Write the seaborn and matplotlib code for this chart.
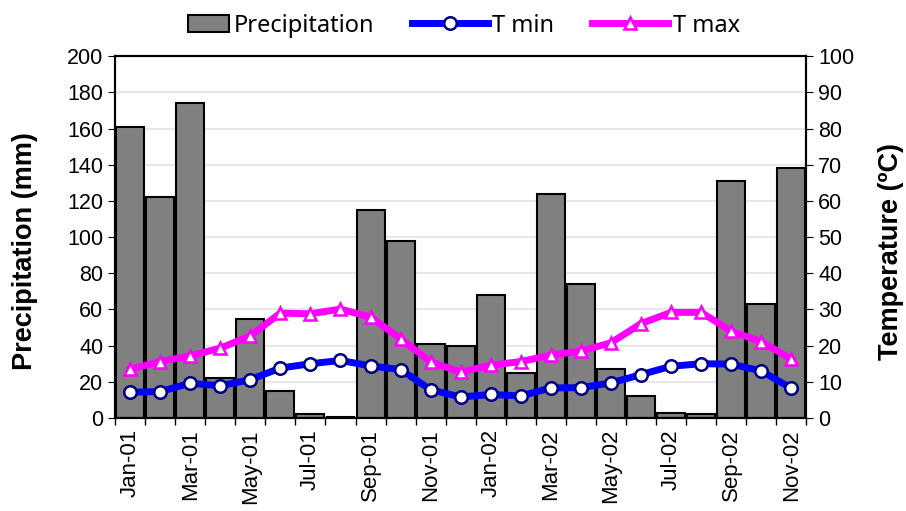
import matplotlib
matplotlib.use("Agg")
import matplotlib.pyplot as plt
from matplotlib.patches import Patch, Rectangle
from matplotlib.legend_handler import HandlerPatch
import seaborn as sns
import numpy as np
import pandas as pd

# Datos (ene-2001 a nov-2002)
months = ['Jan-01', 'Feb-01', 'Mar-01', 'Apr-01', 'May-01', 'Jun-01', 'Jul-01', 'Aug-01',
          'Sep-01', 'Oct-01', 'Nov-01', 'Dec-01', 'Jan-02', 'Feb-02', 'Mar-02', 'Apr-02',
          'May-02', 'Jun-02', 'Jul-02', 'Aug-02', 'Sep-02', 'Oct-02', 'Nov-02']
precip = [161, 122, 174, 22, 55, 15, 2, 0.5, 115, 98, 41, 40,
          68, 25, 124, 74, 27, 12, 3, 2, 131, 63, 138]
tmin = [7.1, 7.3, 9.6, 8.9, 10.6, 13.8, 15.0, 15.9, 14.4, 13.4, 7.8, 5.8,
        6.5, 6.1, 8.3, 8.4, 9.7, 12.0, 14.3, 15.0, 14.9, 13.0, 8.2]
tmax = [13.5, 15.6, 17.2, 19.3, 22.7, 29.0, 28.8, 30.1, 27.9, 21.9, 15.5, 12.7,
        14.6, 15.6, 17.4, 18.5, 20.8, 26.1, 29.2, 29.2, 24.0, 21.1, 16.3]

df = pd.DataFrame({'Month': months, 'Precipitation': precip, 'Tmin': tmin, 'Tmax': tmax})
df['pos'] = np.arange(len(df))

plt.rcParams['font.family'] = ['Liberation Sans', 'DejaVu Sans']

fig = plt.figure(figsize=(9.06, 5.11), dpi=100)
ax = fig.add_axes([0.127, 0.182, 0.763, 0.708])

sns.barplot(data=df, x='Month', y='Precipitation', color='#808080', saturation=1,
            edgecolor='black', linewidth=1.5, width=0.93, ax=ax)
ax.set_ylim(0, 200)
ax.set_xlim(-0.5, len(df) - 0.5)
ax.set_yticks(np.arange(0, 201, 20))
ax.yaxis.grid(True, color='#e4e4e4', linewidth=1.2)
ax.set_axisbelow(True)
ax.set_xticks(df['pos'][::2])
ax.set_xticklabels(df['Month'][::2], rotation=90)
ax.set_xticks(np.arange(-0.5, len(df), 1), minor=True)
ax.tick_params(axis='x', which='major', length=0, pad=8, labelsize=16)
ax.tick_params(axis='x', which='minor', length=5, width=1)
ax.tick_params(axis='y', length=5, labelsize=15.5)
ax.set_xlabel('')
ax.set_ylabel('')

ax2 = ax.twinx()
sns.lineplot(data=df, x='pos', y='Tmin', color='#0000ff', linewidth=5, marker='o',
             markersize=9, markerfacecolor='white', markeredgecolor='#000080',
             markeredgewidth=1.8, label='T min', ax=ax2, legend=False)
sns.lineplot(data=df, x='pos', y='Tmax', color='#ff00ff', linewidth=5, marker='^',
             markersize=9, markerfacecolor='white', markeredgecolor='#ff00ff',
             markeredgewidth=1.8, label='T max', ax=ax2, legend=False)
ax2.set_ylim(0, 100)
ax2.set_yticks(np.arange(0, 101, 10))
ax2.tick_params(axis='y', length=5, labelsize=15.5)
ax2.set_ylabel('')
ax2.set_xlim(-0.5, len(df) - 0.5)

for a in (ax, ax2):
    for s in a.spines.values():
        s.set_linewidth(1.5)

# Titulos de ejes
fig.text(25 / 906, 1 - 251 / 511, 'Precipitation (mm)', rotation=90, ha='center',
         va='center', fontsize=19.5, fontweight='bold')
fig.text(891 / 906, 1 - 251 / 511, 'Temperature (ºC)', rotation=90, ha='center',
         va='center', fontsize=19.5, fontweight='bold')


def small_rect(legend, orig_handle, xdescent, ydescent, width, height, fontsize):
    w = 30
    return Rectangle((width - w - xdescent, -ydescent), w, height)


handles, labels = ax2.get_legend_handles_labels()
handles = [Patch(facecolor='#808080', edgecolor='black', linewidth=1.5)] + handles
labels = ['Precipitation'] + labels
fig.legend(handles, labels, loc='upper center', bbox_to_anchor=(0.493, 1.015), ncol=3,
           frameon=False, handlelength=3.2, columnspacing=1.6, handletextpad=0.2,
           prop={'family': 'Noto Sans', 'size': 17},
           handler_map={Patch: HandlerPatch(patch_func=small_rect)})

fig.savefig('out.png', dpi=100)
